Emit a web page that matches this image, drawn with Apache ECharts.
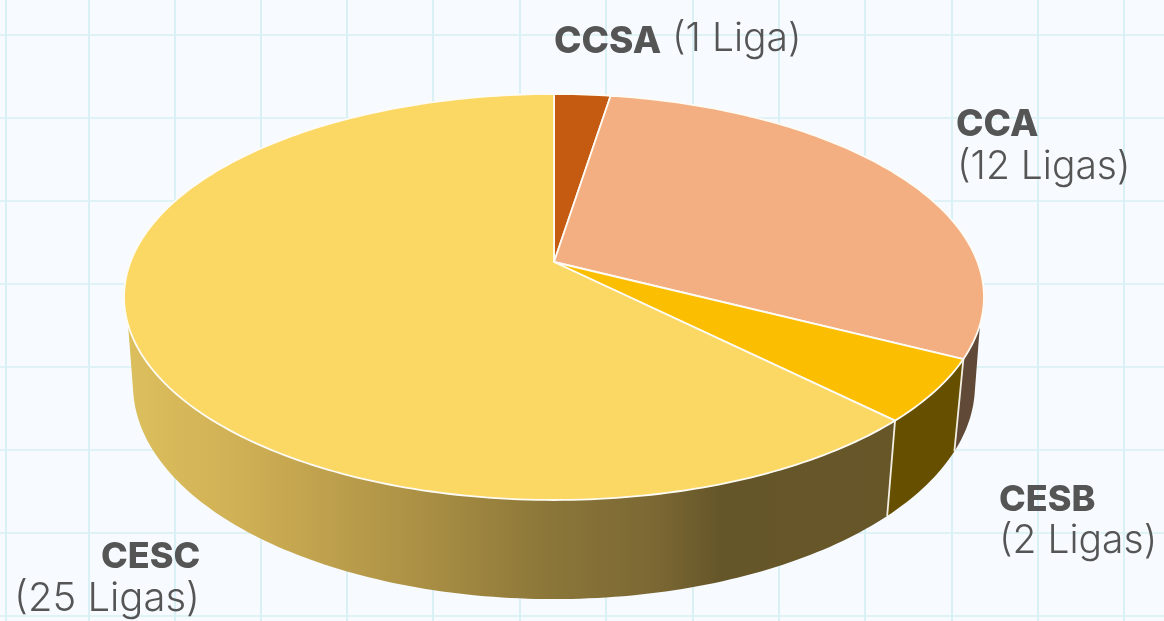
<!DOCTYPE html>
<html>
<head>
<meta charset="utf-8">
<style>
  html, body { margin: 0; padding: 0; background: #f7fbff; }
  #main { width: 1164px; height: 621px; }
</style>
<script src="https://cdn.jsdelivr.net/npm/echarts@6/dist/echarts.min.js"></script>
</head>
<body>
<div id="main"></div>
<script>
// dados
var confederacoes = ['CCSA', 'CCA', 'CESB', 'CESC'];
var ligas = [1, 12, 2, 25];
var coresTopo = ['#c55a11', '#f3af81', '#fcbe00', '#fbd764'];
var coresLado = ['#76360a', '#604936', '#665000', '#675628'];
var gridX = [5.5, 89, 175, 261, 347, 433, 519.5, 606, 692.5, 779, 865, 951.5, 1037.5, 1124];
var gridY = [35, 118, 201, 284, 367, 450, 533, 616];

// degrade da parede da fatia maior
var gradienteCesc = {
  type: 'linear', x: 126, y: 0, x2: 888, y2: 0, global: true,
  colorStops: [
    { offset: 0, color: '#dcbf5d' },
    { offset: 0.15, color: '#d0b055' },
    { offset: 0.38, color: '#ac9145' },
    { offset: 0.55, color: '#8c7739' },
    { offset: 0.7, color: '#7a6733' },
    { offset: 0.78, color: '#655629' },
    { offset: 1, color: '#675628' }
  ]
};

// projecao em perspectiva do disco
var CX = 554, R = 423.5;
function projetar(grau, baixo) {
  var t = grau * Math.PI / 180;
  var u = Math.sin(t), v = -Math.cos(t);
  var w = 1 - 0.1724 * v + (baixo ? 0.0207 : 0);
  return [CX + R * u / w, (151.8 * v + 262 + (baixo ? 94.4 : 0)) / w];
}
function arco(de, ate, baixo) {
  var pts = [];
  var passos = Math.max(2, Math.ceil(Math.abs(ate - de)));
  for (var i = 0; i <= passos; i++) {
    pts.push(projetar(de + (ate - de) * i / passos, baixo));
  }
  return pts;
}

var total = ligas.reduce(function (a, b) { return a + b; }, 0);
var inicio = [];
ligas.reduce(function (soma, n, i) {
  inicio[i] = soma / total * 360;
  return soma + n;
}, 0);

// limites da parede visivel: anel de cima e anel de baixo tem tangentes diferentes
var TOPO_DE = 107.5, TOPO_ATE = 252.5;
var BASE_DE = 102, BASE_ATE = 258;

function desenhaLado(params, api) {
  var i = params.dataIndex;
  var fim = inicio[i] + api.value(0) / total * 360;
  var baseDe = Math.max(inicio[i], BASE_DE);
  var baseAte = Math.min(fim, BASE_ATE);
  if (baseAte <= baseDe) return;
  var topoDe = Math.max(inicio[i], TOPO_DE);
  var topoAte = Math.min(fim, TOPO_ATE);
  var filhos = [{
    type: 'polygon',
    shape: { points: arco(topoDe, topoAte, false).concat(arco(baseAte, baseDe, true)) },
    style: { fill: i === 3 ? gradienteCesc : coresLado[i], stroke: 'none' }
  }];
  if (inicio[i] > BASE_DE) {
    filhos.push({
      type: 'polyline',
      shape: { points: [projetar(inicio[i], false), projetar(inicio[i], true)] },
      style: { stroke: '#f3efe4', lineWidth: 1.8, fill: 'none' }
    });
  }
  return { type: 'group', children: filhos };
}

function desenhaTopo(params, api) {
  var i = params.dataIndex;
  var de = inicio[i];
  var ate = de + api.value(0) / total * 360;
  return {
    type: 'polygon',
    shape: { points: [[CX, 262]].concat(arco(de, ate, false)) },
    style: { fill: coresTopo[i], stroke: '#fdfbf4', lineWidth: 1.8, lineJoin: 'round' }
  };
}

function linha(n) {
  return '(' + n + (n === 1 ? ' Liga)' : ' Ligas)');
}

var FONTE = 'Inter';
var COR_TEXTO = '#555555';
function texto(x, y, s, peso, tam) {
  return {
    type: 'text', x: x, y: y, z: 10,
    style: {
      text: s, fill: COR_TEXTO, font: peso + ' ' + tam + 'px ' + FONTE,
      textAlign: 'left', textVerticalAlign: 'bottom'
    }
  };
}

var chart = echarts.init(document.getElementById('main'), null, { renderer: 'canvas' });
chart.setOption({
  animation: false,
  backgroundColor: '#f7fbff',
  grid: { left: 0, right: 0, top: 0, bottom: 0 },
  xAxis: {
    type: 'value', min: 0, max: 1164,
    axisLine: { show: false }, axisLabel: { show: false },
    axisTick: { show: false, customValues: gridX },
    splitLine: { show: true, lineStyle: { color: '#d9f0f4', width: 2 } }
  },
  yAxis: {
    type: 'value', min: 0, max: 621, inverse: true,
    axisLine: { show: false }, axisLabel: { show: false },
    axisTick: { show: false, customValues: gridY },
    splitLine: { show: true, lineStyle: { color: '#dff2f5', width: 2 } }
  },
  series: [
    { type: 'custom', coordinateSystem: 'none', renderItem: desenhaLado, data: ligas, z: 3, silent: true },
    { type: 'custom', coordinateSystem: 'none', renderItem: desenhaTopo, data: ligas, z: 4, silent: true }
  ],
  graphic: [
    texto(554, 60, confederacoes[0], 800, 37),
    texto(672, 59, linha(ligas[0]), 300, 39),
    texto(956, 143, confederacoes[1], 800, 37),
    texto(957, 187, linha(ligas[1]), 300, 39),
    texto(999, 518, confederacoes[2], 800, 36),
    texto(999, 561, linha(ligas[2]), 300, 39),
    texto(101, 575, confederacoes[3], 800, 36),
    texto(14, 619, linha(ligas[3]), 300, 40)
  ]
});
</script>
</body>
</html>
